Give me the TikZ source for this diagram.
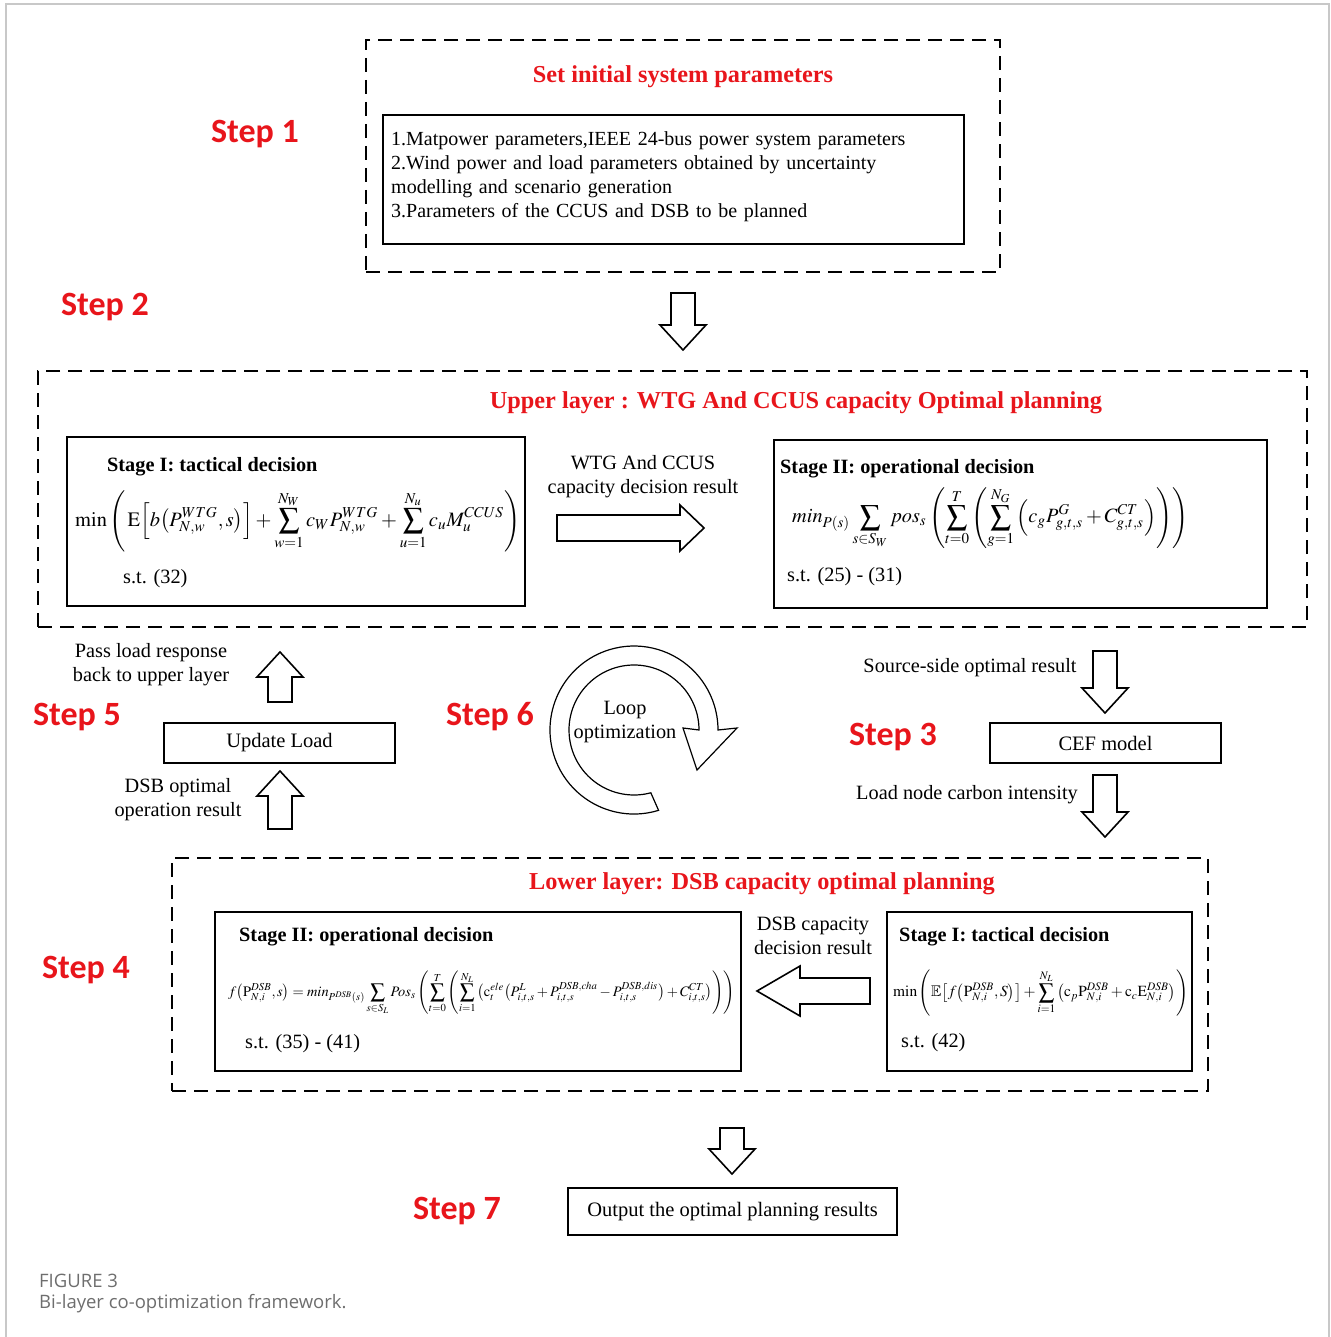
\documentclass[tikz,border=0pt]{standalone}
\usepackage{amssymb}
\usepackage{mathptmx}
\usepackage{fontspec}
\usepackage{graphicx}
\setmainfont{Liberation Serif}
\newfontfamily\stepfont{Carlito}
\newfontfamily\capfont{Open Sans}
\usetikzlibrary{calc}
\definecolor{stepred}{HTML}{E8151B}
\definecolor{capgray}{HTML}{6E6E6E}
\definecolor{framegray}{HTML}{C8C8C8}
\begin{document}
\begin{tikzpicture}[x=1pt,y=-1pt,
  dbox/.style={draw, line width=1.8pt, dash pattern=on 14pt off 8pt, inner sep=0pt},
  sbox/.style={draw, line width=1.8pt, inner sep=0pt},
  steplbl/.style={text=stepred, font=\stepfont\bfseries\fontsize{34}{40}\selectfont, inner sep=0pt},
  redtitle/.style={text=stepred, font=\bfseries\fontsize{24.3}{28}\selectfont, inner sep=0pt},
  body/.style={font=\fontsize{20.3}{24}\selectfont, inner sep=0pt},
  stagetitle/.style={font=\bfseries\fontsize{20.3}{24}\selectfont, inner sep=0pt, anchor=west},
  blk/.style={draw, line width=1.6pt, fill=white, line join=miter},
  pics/darrow/.style={code={\draw[blk] (-12,0) -- (12,0) -- (12,#1-25) -- (23,#1-25) -- (0,#1) -- (-23,#1-25) -- (-12,#1-25) -- cycle;}}
]
\useasboundingbox (0,0) rectangle (1330,1337);
% outer frame
\draw[framegray, line width=1.2pt] (6,1337) -- (6,4) -- (1329,4) -- (1329,1337);

% Step labels
\node[steplbl] (s1) at (255,134) {Step 1};
\node[steplbl] (s2) at (105,307) {Step 2};
\node[steplbl] (s5) at (77,717) {Step 5};
\node[steplbl] (s6) at (490,717) {Step 6};
\node[steplbl] (s3) at (893,737) {Step 3};
\node[steplbl] (s4) at (86,970) {Step 4};
\node[steplbl] (s7) at (457,1211) {Step 7};

% Step 1 box
\node[dbox, minimum width=634pt, minimum height=232pt] (init) at (683,156) {};
\node[redtitle] (initt) at (683,77) {Set initial system parameters};
\node[sbox, minimum width=581pt, minimum height=129pt] (params) at (673.5,179.5) {};
\node[body, anchor=north west, align=left, text width=570pt, font=\fontsize{20}{24}\selectfont] (paramtxt) at (391,131) {%
1.Matpower parameters,IEEE 24-bus power system parameters\\
2.Wind power and load parameters obtained by uncertainty\\
modelling and scenario generation\\
3.Parameters of the CCUS and DSB to be planned};

\pic at (683,293) {darrow=57};

% Upper layer
\node[dbox, minimum width=1269pt, minimum height=256pt] (upper) at (672.5,499) {};
\node[redtitle] (uppert) at (796,403) {Upper layer : WTG And CCUS capacity Optimal planning};
\node[sbox, minimum width=458pt, minimum height=169pt] (u1) at (296,521.5) {};
\node[stagetitle] (u1t) at (107,467) {Stage I: tactical decision};
\node[inner sep=0pt, anchor=west] (u1f) at (75,521) {\resizebox{445pt}{!}{$\displaystyle
 \mathrm{min}\left(\,\mathrm{E}\Big[b\big(P^{WTG}_{N,w},s\big)\Big]+\sum_{w=1}^{N_W}c_W P^{WTG}_{N,w}+\sum_{u=1}^{N_u}c_u M_u^{CCUS}\right)$}};
\node[body, anchor=west] (u1s) at (123,579) {s.t. (32)};

\node[sbox, minimum width=493pt, minimum height=168pt] (u2) at (1020.5,524) {};
\node[stagetitle] (u2t) at (780,469) {Stage II: operational decision};
\node[inner sep=0pt, anchor=west] (u2f) at (792,518) {\resizebox{396pt}{!}{$\displaystyle
 min_{P(s)}\sum_{s\in S_W}pos_s\left(\sum_{t=0}^{T}\left(\sum_{g=1}^{N_G}\Big(c_gP^G_{g,t,s}+C^{CT}_{g,t,s}\Big)\right)\right)$}};
\node[body, anchor=west] (u2s) at (787,577) {s.t. (25) - (31)};

\node[body, align=center] (wtgres) at (643,477) {WTG And CCUS\\capacity decision result};
\draw[blk] (557,515) -- (680,515) -- (680,505) -- (704,528) -- (680,551) -- (680,541) -- (557,541) -- cycle;

% Middle: left side
\node[body, align=center] (passtxt) at (151,665) {Pass load response\\back to upper layer};
\pic[rotate=180] at (280,702) {darrow=50};
\node[sbox, minimum width=231pt, minimum height=40pt, font=\fontsize{20.5}{24}\selectfont] (upd) at (279.5,743) {Update Load};
\node[body, align=center] (dsbopt) at (178,800) {DSB optimal\\operation result};
\pic[rotate=180] at (280,829) {darrow=58};

% Loop
\coordinate (lc) at (634,730);
\draw[line width=1.2pt, fill=white]
  ($(lc)+(73:84)$) arc[start angle=73, end angle=360, radius=84]
  -- ($(lc)+(103,-2)$) -- ($(lc)+(63,40)$) -- ($(lc)+(49,-2)$)
  -- ($(lc)+(65,0)$) arc[start angle=360, end angle=75, radius=65] -- cycle;
\node[body, align=center] (looptxt) at (625,722) {Loop\\optimization};

% Middle: right side
\node[body] (srctxt) at (970,668) {Source-side optimal result};
\pic at (1105,651) {darrow=62};
\node[sbox, minimum width=231pt, minimum height=40pt, font=\fontsize{20.5}{24}\selectfont] (cef) at (1105.5,743) {CEF model};
\node[body] (loadtxt) at (967,795) {Load node carbon intensity};
\pic at (1105,775) {darrow=62};

% Lower layer
\node[dbox, minimum width=1036pt, minimum height=233pt] (lower) at (690,974.5) {};
\node[redtitle] (lowert) at (762,884) {Lower layer: DSB capacity optimal planning};
\node[sbox, minimum width=526pt, minimum height=159pt] (l2) at (478,991.5) {};
\node[stagetitle] (l2t) at (239,937) {Stage II: operational decision};
\node[inner sep=0pt, anchor=west] (l2f) at (228,993) {\resizebox{507pt}{!}{$\displaystyle
 f\big(\mathrm{P}^{DSB}_{N,i},s\big)=min_{P^{DSB}(s)}\sum_{s\in S_L}Pos_s\left(\sum_{t=0}^{T}\left(\sum_{i=1}^{N_L}\big(\mathrm{c}_t^{ele}\big(P^{L}_{i,t,s}+P^{DSB,cha}_{i,t,s}-P^{DSB,dis}_{i,t,s}\big)+C^{CT}_{i,t,s}\big)\right)\right)$}};
\node[body, anchor=west] (l2s) at (245,1044) {s.t. (35) - (41)};

\node[sbox, minimum width=305pt, minimum height=159pt] (l1) at (1039.5,991.5) {};
\node[stagetitle] (l1t) at (899,937) {Stage I: tactical decision};
\node[inner sep=0pt, anchor=west] (l1f) at (893,993) {\resizebox{295pt}{!}{$\displaystyle
 \mathrm{min}\left(\mathbb{E}\big[f\big(\mathrm{P}^{DSB}_{N,i},S\big)\big]+\sum_{i=1}^{N_L}\big(\mathrm{c}_p\mathrm{P}^{DSB}_{N,i}+\mathrm{c}_c\mathrm{E}^{DSB}_{N,i}\big)\right)$}};
\node[body, anchor=west] (l1s) at (901,1043) {s.t. (42)};

\node[body, align=center] (dsbcap) at (813,936) {DSB capacity\\decision result};
\draw[blk] (870,978) -- (800,978) -- (800,966) -- (757,991) -- (800,1016) -- (800,1004) -- (870,1004) -- cycle;

% Step 7
\pic at (732,1128) {darrow=46};
\node[sbox, minimum width=329pt, minimum height=47pt, font=\fontsize{20.5}{24}\selectfont] (out) at (732.5,1211.5) {Output the optimal planning results};

% caption
\node[anchor=west, inner sep=0pt, text=capgray, font=\capfont\fontsize{18.5}{22}\selectfont] (fig) at (39,1281) {FIGURE 3};
\node[anchor=west, inner sep=0pt, text=capgray, font=\capfont\fontsize{18.5}{22}\selectfont] (figcap) at (39,1304) {Bi-layer co-optimization framework.};
\end{tikzpicture}
\end{document}
